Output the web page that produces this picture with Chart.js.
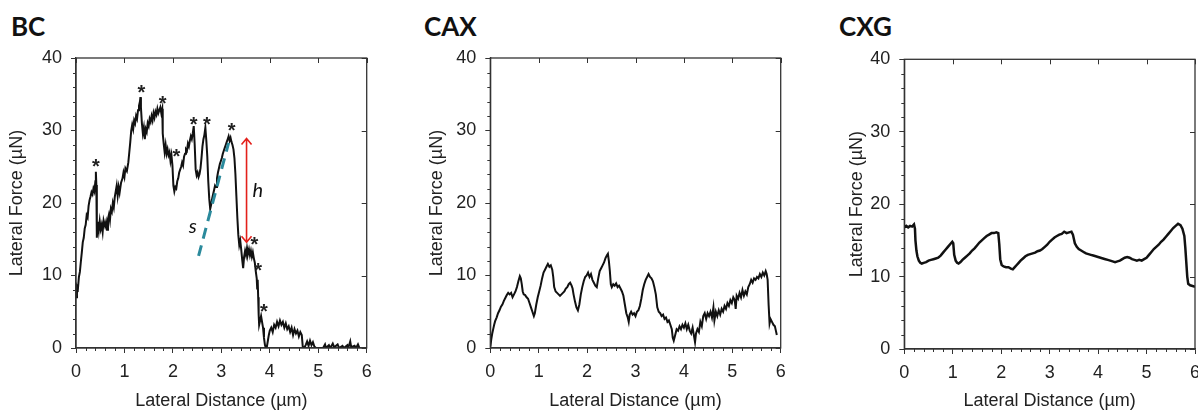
<!DOCTYPE html>
<html>
<head>
<meta charset="utf-8">
<script src="https://cdn.jsdelivr.net/npm/chart.js@4.4.1/dist/chart.umd.min.js"></script>
<style>
    html, body { margin: 0; padding: 0; background: #fff; }
    body { width: 1198px; height: 412px; position: relative; overflow: hidden; }
    .panel-title {
        position: absolute; top: 11px; line-height: 31px;
        font-family: Lato, "Open Sans", sans-serif; font-weight: 700; font-size: 26px; color: #111;
    }
    canvas { position: absolute; top: 0; }
</style>
</head>
<body>
<div class="panel-title" style="left:11px">BC</div>
<div class="panel-title" style="left:424px">CAX</div>
<div class="panel-title" style="left:839px">CXG</div>
<canvas id="bcChart" width="394" height="412" style="left:6px"></canvas>
<canvas id="caxChart" width="384" height="412" style="left:426px"></canvas>
<canvas id="cxgChart" width="372" height="412" style="left:846px"></canvas>
<script>
// Lateral force traces: [lateral distance (µm), lateral force (µN)]
const bcTrace = [
    [0.00, 7.0], [0.02, 8.5], [0.04, 8.2], [0.06, 9.8], [0.08, 10.5], [0.10, 11.9], [0.12, 13.2],
    [0.14, 14.6], [0.16, 15.2], [0.18, 16.5], [0.20, 17.0], [0.22, 18.3], [0.24, 18.0], [0.26, 19.6],
    [0.28, 20.4], [0.30, 20.9], [0.32, 21.5], [0.34, 21.2], [0.36, 22.0], [0.38, 21.6], [0.40, 23.0],
    [0.41, 24.3], [0.42, 22.5], [0.43, 15.2], [0.45, 17.4], [0.47, 16.2], [0.49, 17.5], [0.51, 16.4],
    [0.53, 17.0], [0.55, 16.0], [0.57, 17.6], [0.60, 16.8], [0.62, 17.4], [0.64, 16.3], [0.66, 17.8],
    [0.68, 18.4], [0.70, 17.6], [0.72, 19.2], [0.74, 18.8], [0.76, 20.0], [0.78, 19.4], [0.80, 20.8],
    [0.82, 21.6], [0.84, 22.4], [0.86, 21.0], [0.88, 22.2], [0.90, 21.4], [0.93, 22.8], [0.96, 23.4],
    [0.98, 24.2], [1.00, 23.6], [1.02, 24.8], [1.05, 24.4], [1.08, 25.6], [1.10, 27.0], [1.12, 28.4],
    [1.14, 30.0], [1.16, 30.8], [1.18, 30.2], [1.20, 31.4], [1.22, 31.0], [1.24, 32.0], [1.26, 31.6],
    [1.28, 32.8], [1.30, 33.4], [1.32, 34.0], [1.33, 34.6], [1.34, 33.2], [1.36, 31.0], [1.38, 29.6],
    [1.40, 30.4], [1.42, 28.8], [1.44, 30.2], [1.46, 29.8], [1.48, 31.0], [1.50, 30.6], [1.52, 31.6],
    [1.54, 31.2], [1.56, 32.0], [1.58, 31.4], [1.60, 32.4], [1.62, 31.8], [1.64, 32.6], [1.66, 32.2],
    [1.68, 33.0], [1.70, 32.4], [1.72, 32.8], [1.74, 33.2], [1.76, 32.4], [1.78, 33.0], [1.79, 29.6],
    [1.81, 28.2], [1.83, 27.0], [1.85, 28.0], [1.87, 26.8], [1.89, 27.4], [1.91, 26.6], [1.93, 27.0],
    [1.95, 25.8], [1.97, 26.6], [1.99, 25.2], [2.01, 22.4], [2.03, 21.6], [2.05, 22.2], [2.07, 22.0],
    [2.09, 23.0], [2.11, 23.4], [2.13, 24.2], [2.15, 24.6], [2.17, 25.0], [2.19, 25.6], [2.21, 25.2],
    [2.23, 26.4], [2.25, 26.8], [2.27, 27.4], [2.29, 27.2], [2.31, 28.2], [2.33, 27.8], [2.35, 28.6],
    [2.37, 29.2], [2.39, 28.8], [2.41, 29.6], [2.43, 30.6], [2.45, 28.0], [2.47, 24.6], [2.49, 23.8],
    [2.51, 24.2], [2.53, 23.6], [2.55, 24.0], [2.57, 24.8], [2.59, 26.2], [2.61, 27.8], [2.63, 28.8],
    [2.65, 29.4], [2.67, 30.4], [2.69, 28.6], [2.71, 26.4], [2.73, 23.0], [2.75, 20.6], [2.77, 19.2],
    [2.79, 19.8], [2.81, 20.6], [2.83, 21.2], [2.85, 21.8], [2.87, 22.4], [2.89, 22.2], [2.91, 23.4],
    [2.93, 24.2], [2.95, 24.8], [2.97, 25.4], [2.99, 25.8], [3.01, 26.2], [3.03, 26.8], [3.05, 27.2],
    [3.07, 27.6], [3.09, 28.0], [3.11, 28.4], [3.13, 28.8], [3.15, 29.2], [3.17, 28.6], [3.19, 29.0],
    [3.21, 28.4], [3.23, 28.0], [3.25, 27.4], [3.27, 26.2], [3.29, 24.0], [3.31, 21.0], [3.33, 18.0],
    [3.35, 15.6], [3.37, 14.2], [3.39, 14.8], [3.41, 13.6], [3.43, 12.2], [3.45, 11.0], [3.47, 12.6],
    [3.49, 13.4], [3.51, 12.8], [3.53, 13.8], [3.55, 13.0], [3.57, 13.6], [3.59, 12.8], [3.61, 13.4],
    [3.63, 12.6], [3.65, 13.2], [3.67, 12.4], [3.69, 11.8], [3.71, 10.6], [3.73, 9.6], [3.74, 8.2],
    [3.75, 9.4], [3.76, 7.0], [3.77, 4.6], [3.78, 3.2], [3.80, 3.8], [3.82, 4.4], [3.84, 3.6],
    [3.86, 2.8], [3.88, 1.4], [3.90, 0.4], [3.92, 0.0], [3.94, 0.2], [3.96, 1.0], [3.98, 1.8],
    [4.00, 2.4], [4.03, 2.8], [4.06, 2.2], [4.09, 3.2], [4.12, 2.8], [4.15, 3.6], [4.18, 3.0],
    [4.21, 3.8], [4.24, 3.2], [4.27, 3.6], [4.30, 2.8], [4.33, 3.4], [4.36, 2.6], [4.39, 3.0],
    [4.42, 2.2], [4.45, 2.8], [4.48, 1.8], [4.51, 2.6], [4.54, 2.0], [4.57, 2.4], [4.60, 1.6],
    [4.63, 2.2], [4.66, 1.8], [4.68, 0.2], [4.71, 0.0], [4.74, 0.4], [4.77, 0.9], [4.80, 0.3],
    [4.83, 1.0], [4.86, 0.4], [4.89, 0.8], [4.92, 0.2], [4.95, 0.0], [5.00, 0.0], [5.10, 0.0],
    [5.14, 0.5], [5.16, 0.0], [5.22, 0.4], [5.25, 0.0], [5.30, 0.6], [5.33, 0.1], [5.40, 0.5],
    [5.43, 0.0], [5.50, 0.3], [5.53, 0.0], [5.60, 0.4], [5.62, 0.0], [5.66, 0.9], [5.68, 0.1],
    [5.75, 0.3], [5.78, 0.0], [5.82, 0.5], [5.85, 0.0]
];

const caxTrace = [
    [0.00, 0.2], [0.02, 1.2], [0.04, 2.0], [0.06, 2.6], [0.08, 3.2], [0.10, 3.7], [0.13, 4.2],
    [0.16, 4.8], [0.19, 5.2], [0.22, 5.7], [0.25, 6.0], [0.28, 6.5], [0.31, 6.9], [0.34, 7.3],
    [0.37, 7.6], [0.40, 7.4], [0.43, 7.6], [0.46, 7.0], [0.49, 7.4], [0.52, 7.8], [0.55, 8.4],
    [0.58, 9.2], [0.61, 9.9], [0.63, 9.6], [0.65, 8.8], [0.67, 7.8], [0.69, 7.4], [0.72, 7.3],
    [0.75, 7.0], [0.78, 6.8], [0.81, 6.2], [0.84, 5.6], [0.87, 5.0], [0.90, 4.4], [0.92, 4.8],
    [0.95, 6.0], [0.98, 7.0], [1.01, 7.8], [1.04, 8.6], [1.07, 9.6], [1.10, 10.4], [1.13, 10.8],
    [1.16, 11.2], [1.19, 11.6], [1.22, 11.2], [1.25, 11.4], [1.28, 10.8], [1.30, 9.8], [1.32, 8.4],
    [1.35, 7.8], [1.38, 7.6], [1.41, 7.4], [1.44, 7.2], [1.47, 7.4], [1.50, 7.6], [1.53, 7.8],
    [1.56, 8.2], [1.59, 8.4], [1.62, 8.8], [1.65, 9.0], [1.68, 8.6], [1.70, 8.2], [1.72, 7.4],
    [1.75, 6.4], [1.78, 5.6], [1.81, 5.2], [1.84, 6.0], [1.87, 7.4], [1.90, 8.4], [1.93, 9.2],
    [1.96, 9.8], [1.99, 10.0], [2.02, 10.4], [2.05, 9.8], [2.08, 10.2], [2.11, 9.4], [2.14, 9.0],
    [2.17, 8.6], [2.20, 8.4], [2.23, 9.6], [2.26, 10.6], [2.29, 11.0], [2.32, 11.4], [2.35, 11.8],
    [2.38, 12.4], [2.41, 12.8], [2.43, 13.0], [2.45, 12.0], [2.47, 10.6], [2.49, 8.8], [2.51, 8.4],
    [2.54, 8.8], [2.57, 8.6], [2.60, 8.9], [2.63, 8.4], [2.66, 8.6], [2.69, 8.2], [2.72, 7.8],
    [2.75, 7.2], [2.78, 6.0], [2.81, 4.8], [2.84, 4.2], [2.86, 3.6], [2.88, 4.6], [2.91, 5.0],
    [2.94, 4.6], [2.97, 4.8], [3.00, 4.4], [3.03, 5.0], [3.06, 5.2], [3.09, 5.8], [3.12, 6.8],
    [3.15, 8.0], [3.18, 8.8], [3.21, 9.4], [3.24, 9.8], [3.27, 10.2], [3.30, 9.8], [3.33, 9.6],
    [3.36, 9.2], [3.39, 8.4], [3.42, 7.4], [3.45, 5.6], [3.48, 5.0], [3.51, 4.8], [3.54, 4.4],
    [3.57, 4.6], [3.60, 4.0], [3.63, 4.2], [3.66, 3.6], [3.69, 3.8], [3.72, 3.2], [3.75, 2.6],
    [3.77, 1.4], [3.79, 1.0], [3.82, 1.8], [3.85, 2.6], [3.88, 2.4], [3.91, 3.0], [3.94, 2.6],
    [3.97, 3.2], [4.00, 2.8], [4.03, 3.4], [4.06, 2.6], [4.09, 3.2], [4.12, 2.4], [4.15, 2.0],
    [4.18, 2.8], [4.21, 1.6], [4.23, 0.8], [4.25, 2.0], [4.28, 2.6], [4.31, 2.2], [4.34, 3.6],
    [4.37, 3.0], [4.40, 4.4], [4.43, 4.8], [4.46, 4.0], [4.49, 4.8], [4.52, 4.4], [4.55, 5.0],
    [4.58, 4.2], [4.61, 5.6], [4.63, 3.8], [4.66, 5.0], [4.69, 4.4], [4.72, 5.2], [4.75, 4.6],
    [4.78, 5.4], [4.81, 5.0], [4.84, 5.8], [4.87, 5.4], [4.90, 6.2], [4.93, 5.8], [4.96, 6.6],
    [4.99, 6.2], [5.02, 7.0], [5.05, 6.6], [5.07, 5.4], [5.09, 7.2], [5.12, 6.8], [5.15, 7.6],
    [5.18, 7.0], [5.21, 8.0], [5.24, 7.2], [5.27, 7.8], [5.30, 7.4], [5.33, 8.4], [5.36, 8.8],
    [5.39, 9.4], [5.42, 9.0], [5.45, 9.6], [5.48, 9.4], [5.51, 9.8], [5.54, 9.6], [5.57, 10.2],
    [5.60, 9.8], [5.63, 10.4], [5.66, 10.0], [5.69, 10.6], [5.71, 10.2], [5.73, 9.4], [5.75, 6.0],
    [5.77, 3.4], [5.79, 4.0], [5.82, 3.6], [5.85, 3.2], [5.88, 3.0], [5.90, 2.4], [5.92, 1.8]
];

const cxgTrace = [
    [0.00, 16.8], [0.04, 17.0], [0.08, 16.8], [0.12, 17.0], [0.16, 16.9], [0.20, 17.2], [0.22, 16.6],
    [0.23, 15.0], [0.25, 13.6], [0.27, 12.8], [0.30, 12.2], [0.33, 11.9], [0.36, 11.8], [0.40, 11.9],
    [0.45, 12.0], [0.50, 12.2], [0.55, 12.3], [0.60, 12.4], [0.65, 12.5], [0.70, 12.6], [0.75, 12.9],
    [0.80, 13.3], [0.85, 13.7], [0.90, 14.1], [0.95, 14.5], [0.99, 14.8], [1.01, 14.6], [1.03, 13.0],
    [1.06, 12.2], [1.09, 11.9], [1.12, 11.8], [1.16, 12.0], [1.20, 12.3], [1.25, 12.6], [1.30, 12.9],
    [1.35, 13.2], [1.40, 13.6], [1.45, 13.9], [1.50, 14.3], [1.55, 14.7], [1.60, 15.0], [1.65, 15.3],
    [1.70, 15.6], [1.75, 15.8], [1.80, 16.0], [1.85, 16.0], [1.90, 16.1], [1.94, 16.0], [1.96, 14.5],
    [1.98, 12.4], [2.01, 11.6], [2.05, 11.4], [2.10, 11.3], [2.15, 11.3], [2.20, 11.1], [2.24, 11.0],
    [2.28, 11.3], [2.32, 11.6], [2.36, 11.9], [2.40, 12.2], [2.45, 12.5], [2.50, 12.8], [2.55, 13.0],
    [2.60, 13.1], [2.65, 13.2], [2.70, 13.3], [2.75, 13.5], [2.80, 13.6], [2.85, 13.8], [2.90, 14.1],
    [2.95, 14.4], [3.00, 14.8], [3.05, 15.1], [3.10, 15.4], [3.15, 15.6], [3.20, 15.8], [3.25, 15.9],
    [3.30, 16.2], [3.35, 16.0], [3.40, 16.1], [3.45, 16.2], [3.48, 15.8], [3.52, 14.6], [3.56, 14.1],
    [3.60, 13.8], [3.65, 13.6], [3.70, 13.4], [3.75, 13.2], [3.80, 13.1], [3.85, 13.0], [3.90, 12.9],
    [3.95, 12.8], [4.00, 12.7], [4.05, 12.6], [4.10, 12.5], [4.15, 12.4], [4.20, 12.3], [4.25, 12.2],
    [4.30, 12.1], [4.35, 12.0], [4.40, 12.1], [4.45, 12.2], [4.50, 12.4], [4.55, 12.6], [4.60, 12.7],
    [4.65, 12.6], [4.70, 12.4], [4.75, 12.3], [4.80, 12.2], [4.85, 12.3], [4.90, 12.2], [4.95, 12.4],
    [5.00, 12.6], [5.05, 13.0], [5.10, 13.4], [5.15, 13.8], [5.20, 14.1], [5.25, 14.4], [5.30, 14.8],
    [5.35, 15.1], [5.40, 15.5], [5.45, 15.9], [5.50, 16.3], [5.55, 16.7], [5.60, 17.0], [5.65, 17.3],
    [5.70, 17.1], [5.74, 16.6], [5.78, 15.6], [5.80, 14.0], [5.82, 12.0], [5.84, 10.0], [5.86, 9.0],
    [5.90, 8.8], [5.95, 8.7], [6.00, 8.6]
];

// BC annotations: peak markers, slope line s, drop height h
const bcStars = [
    [0.41, 25.6], [1.35, 35.8], [1.79, 34.3], [2.07, 27.0], [2.43, 31.5],
    [2.70, 31.5], [3.21, 30.6], [3.68, 14.9], [3.76, 11.3], [3.88, 5.7]
];
const bcSlope = [[2.53, 12.7], [3.15, 28.3]];
const bcHeight = [[3.52, 28.9], [3.52, 14.6]];
const bcLabels = [['s', 2.41, 16.8], ['h', 3.75, 21.7]];

const xRange = [0, 6];
const yRange = [0, 40];
const xMinorStep = 0.2;
const yMinorStep = 2;

const textFont = '"Liberation Sans", Arial, sans-serif';
const frameColor = '#333';

// Box frame, minor ticks outside, major ticks inside on top/right
const boxFrame = {
    id: 'boxFrame',
    afterDraw(chart) {
        const { ctx, chartArea: a, scales: { x, y } } = chart;
        ctx.save();
        ctx.strokeStyle = frameColor;
        ctx.lineWidth = 1.3;
        ctx.strokeRect(a.left, a.top, a.right - a.left, a.bottom - a.top);
        ctx.lineWidth = 1;
        ctx.beginPath();
        const ySteps = Math.round((yRange[1] - yRange[0]) / yMinorStep);
        for (let i = 0; i <= ySteps; i++) {
            const v = yRange[0] + i * yMinorStep;
            const py = Math.round(y.getPixelForValue(v)) + 0.5;
            if (i % 5 !== 0) {
                ctx.moveTo(a.left - 3, py); ctx.lineTo(a.left, py);
            } else {
                ctx.moveTo(a.right - 5, py); ctx.lineTo(a.right, py);
            }
        }
        const xSteps = Math.round((xRange[1] - xRange[0]) / xMinorStep);
        for (let i = 0; i <= xSteps; i++) {
            const v = xRange[0] + i * xMinorStep;
            const px = Math.round(x.getPixelForValue(v)) + 0.5;
            if (i % 5 !== 0) {
                ctx.moveTo(px, a.bottom); ctx.lineTo(px, a.bottom + 3);
            } else {
                ctx.moveTo(px, a.top); ctx.lineTo(px, a.top + 5);
            }
        }
        ctx.stroke();
        ctx.restore();
    }
};

// Stars, h arrow and italic labels on the BC panel
const bcNotes = {
    id: 'bcNotes',
    afterDatasetsDraw(chart) {
        const { ctx, scales: { x, y } } = chart;
        ctx.save();
        ctx.fillStyle = '#222';
        ctx.textAlign = 'center';
        ctx.textBaseline = 'alphabetic';
        ctx.font = 'bold 20px ' + textFont;
        bcStars.forEach(([sx, sy]) => {
            ctx.fillText('*', x.getPixelForValue(sx), y.getPixelForValue(sy) + 11);
        });

        // double-headed arrow
        const ax = x.getPixelForValue(bcHeight[0][0]);
        const top = y.getPixelForValue(bcHeight[0][1]);
        const bot = y.getPixelForValue(bcHeight[1][1]);
        ctx.strokeStyle = '#e3201b';
        ctx.lineWidth = 1.6;
        ctx.beginPath();
        ctx.moveTo(ax, top); ctx.lineTo(ax, bot);
        ctx.moveTo(ax - 5, top + 6); ctx.lineTo(ax, top); ctx.lineTo(ax + 5, top + 6);
        ctx.moveTo(ax - 5, bot - 6); ctx.lineTo(ax, bot); ctx.lineTo(ax + 5, bot - 6);
        ctx.stroke();

        ctx.fillStyle = '#111';
        ctx.textBaseline = 'middle';
        ctx.font = 'italic 20px Lato, "Open Sans", sans-serif';
        bcLabels.forEach(([t, lx, ly]) => {
            ctx.fillText(t, x.getPixelForValue(lx), y.getPixelForValue(ly));
        });
        ctx.restore();
    }
};

function makePanel(canvasId, trace, box, lineWidth, extraSets, extraPlugins) {
    const datasets = (extraSets || []).concat([{
        data: trace.map(([d, f]) => ({ x: d, y: f })),
        borderColor: '#111',
        borderWidth: lineWidth,
        pointRadius: 0,
        tension: 0
    }]);
    return new Chart(document.getElementById(canvasId), {
        type: 'line',
        data: { datasets },
        options: {
            responsive: false,
            animation: false,
            events: [],
            layout: {
                autoPadding: false,
                padding: { left: 0, top: box.top, right: box.right, bottom: 0 }
            },
            plugins: { legend: { display: false }, tooltip: { enabled: false } },
            scales: {
                x: {
                    type: 'linear',
                    min: xRange[0],
                    max: xRange[1],
                    afterFit: (s) => { s.height = box.xHeight; },
                    border: { display: true, color: frameColor, width: 1.3 },
                    grid: { drawOnChartArea: false, drawTicks: true, tickLength: 5, color: frameColor },
                    ticks: { stepSize: 1, padding: 8, color: '#222', maxRotation: 0, font: { family: textFont, size: 18 } },
                    title: {
                        display: true,
                        text: 'Lateral Distance (µm)',
                        color: '#222',
                        padding: 0,
                        font: { family: textFont, size: 18 }
                    }
                },
                y: {
                    min: yRange[0],
                    max: yRange[1],
                    afterFit: (s) => { s.width = box.yWidth; },
                    border: { display: true, color: frameColor, width: 1.3 },
                    grid: { drawOnChartArea: false, drawTicks: true, tickLength: 5, color: frameColor },
                    ticks: { stepSize: 10, padding: 9, color: '#222', font: { family: textFont, size: 18 } },
                    title: {
                        display: true,
                        text: 'Lateral Force (µN)',
                        color: '#222',
                        padding: 0,
                        font: { family: textFont, size: 18 }
                    }
                }
            }
        },
        plugins: [boxFrame].concat(extraPlugins || [])
    });
}

makePanel('bcChart', bcTrace, { top: 58, right: 33.3, xHeight: 64, yWidth: 70 }, 2, [{
    data: bcSlope.map(([d, f]) => ({ x: d, y: f })),
    borderColor: '#2b8a9c',
    borderWidth: 3,
    borderDash: [11, 7],
    pointRadius: 0
}], [bcNotes]);

makePanel('caxChart', caxTrace, { top: 58, right: 29.3, xHeight: 64, yWidth: 64.3 }, 2);

// canvas runs past the page edge so the last tick label is cut like the source
makePanel('cxgChart', cxgTrace, { top: 59.3, right: 23, xHeight: 63, yWidth: 58.3 }, 2.5);
</script>
</body>
</html>
